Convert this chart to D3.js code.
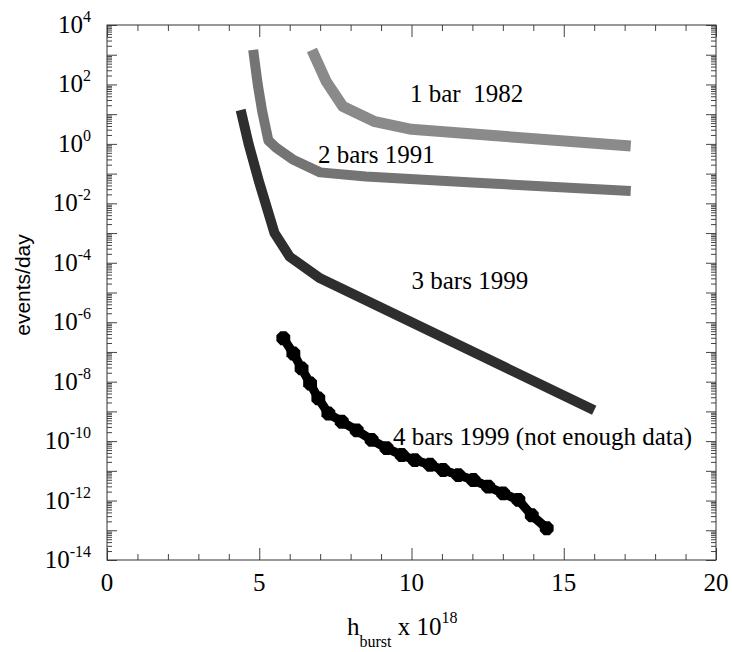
<!DOCTYPE html>
<html>
<head>
<meta charset="utf-8">
<script src="https://cdn.jsdelivr.net/npm/d3@7"></script>
<style>
  body { margin: 0; background: #fff; }
  svg { display: block; }
</style>
</head>
<body>
<svg id="chart" width="732" height="652"></svg>
<script>
const serif = '"Liberation Serif", "Times New Roman", serif'
const sans = '"Liberation Sans", Arial, sans-serif'

// h_burst (x 10^18) and events/day
const bar1X = [6.73, 7.2, 7.75, 8.8, 10, 13, 17.2]
const bar1Y = [1450, 125, 18, 5.6, 3.1, 1.8, 0.85]

const bar2X = [4.8, 4.95, 5.1, 5.3, 5.55, 6.1, 7.0, 8.5, 12, 17.2]
const bar2Y = [1450, 100, 12, 1.3, 0.75, 0.3, 0.11, 0.08, 0.05, 0.026]

const bar3X = [4.39, 4.65, 5.0, 5.5, 6.0, 7.0, 16.0]
const bar3Y = [13.8, 1, 0.05, 0.001, 1.6e-4, 3e-5, 1.1e-9]

const bar4X = [5.79, 6.12, 6.39, 6.67, 6.94, 7.27, 7.71, 8.2, 8.69, 9.18, 9.68,
  10.11, 10.61, 11.04, 11.54, 12.03, 12.52, 13.01, 13.51, 13.95, 14.44]
const bar4Y = [2.9e-7, 8.9e-8, 2.8e-8, 8.7e-9, 2.75e-9, 8.5e-10, 4.5e-10, 2.3e-10,
  1.1e-10, 5.8e-11, 3.4e-11, 2.3e-11, 1.6e-11, 1.07e-11, 7.2e-12, 4.9e-12,
  2.95e-12, 1.74e-12, 1.05e-12, 3.2e-13, 1.17e-13]

const xTicks = [0, 5, 10, 15, 20]
const yExponents = [-14, -12, -10, -8, -6, -4, -2, 0, 2, 4]

const labels = [
  { text: '1 bar\u00a0\u00a01982', x: 9.95, y: 26 },
  { text: '2 bars 1991', x: 6.93, y: 0.23 },
  { text: '3 bars 1999', x: 10.0, y: 1.3e-5 },
  { text: '4 bars 1999 (not enough data)', x: 9.39, y: 7.4e-11 }
]

const plotLeft = 107, plotRight = 716, plotTop = 25, plotBottom = 560

const svg = d3.select('#chart')

const xScale = d3.scaleLinear().domain([0, 20]).range([plotLeft, plotRight])
const yScale = d3.scaleLog().domain([1e-14, 1e4]).range([plotBottom, plotTop])

// tick positions
const xMinor = d3.range(0, 21).filter(d => d % 5 !== 0)
const yMajor = d3.range(-14, 5).map(e => Math.pow(10, e))
const yMinor = []
d3.range(-14, 4).forEach(e => {
  for (let k = 2; k <= 9; k++) yMinor.push(k * Math.pow(10, e))
})

function styleAxis(g) {
  g.selectAll('text').remove()
  g.select('.domain').remove()
  g.selectAll('line').attr('stroke', '#444').attr('stroke-width', 1)
}

svg.append('g').attr('transform', `translate(0,${plotBottom})`)
  .call(d3.axisBottom(xScale).tickValues(xTicks).tickSize(-12)).call(styleAxis)
svg.append('g').attr('transform', `translate(0,${plotBottom})`)
  .call(d3.axisBottom(xScale).tickValues(xMinor).tickSize(-6)).call(styleAxis)
svg.append('g').attr('transform', `translate(0,${plotTop})`)
  .call(d3.axisTop(xScale).tickValues(xTicks).tickSize(-12)).call(styleAxis)
svg.append('g').attr('transform', `translate(0,${plotTop})`)
  .call(d3.axisTop(xScale).tickValues(xMinor).tickSize(-6)).call(styleAxis)

svg.append('g').attr('transform', `translate(${plotLeft},0)`)
  .call(d3.axisLeft(yScale).tickValues(yMajor).tickSize(-10)).call(styleAxis)
svg.append('g').attr('transform', `translate(${plotLeft},0)`)
  .call(d3.axisLeft(yScale).tickValues(yMinor).tickSize(-5)).call(styleAxis)
svg.append('g').attr('transform', `translate(${plotRight},0)`)
  .call(d3.axisRight(yScale).tickValues(yMajor).tickSize(-10)).call(styleAxis)
svg.append('g').attr('transform', `translate(${plotRight},0)`)
  .call(d3.axisRight(yScale).tickValues(yMinor).tickSize(-5)).call(styleAxis)

svg.append('rect')
  .attr('x', plotLeft).attr('y', plotTop)
  .attr('width', plotRight - plotLeft).attr('height', plotBottom - plotTop)
  .attr('fill', 'none').attr('stroke', '#333').attr('stroke-width', 1)

// tick labels
svg.append('g').selectAll('text')
  .data(xTicks)
  .enter()
  .append('text')
  .attr('x', d => xScale(d))
  .attr('y', plotBottom + 31)
  .attr('text-anchor', 'middle')
  .attr('font-family', serif)
  .attr('font-size', 25)
  .text(d => d)

const yLab = svg.append('g').selectAll('text')
  .data(yExponents)
  .enter()
  .append('text')
  .attr('x', 91)
  .attr('y', d => yScale(Math.pow(10, d)) + 8)
  .attr('text-anchor', 'end')
  .attr('font-family', serif)
  .attr('font-size', 25)
yLab.append('tspan').text('10')
yLab.append('tspan').attr('dy', -11).attr('font-size', 16).text(d => d)

// axis titles
svg.append('text')
  .attr('transform', 'translate(30,285) rotate(-90)')
  .attr('text-anchor', 'middle')
  .attr('font-family', sans)
  .attr('font-size', 21)
  .text('events/day')

const xt = svg.append('text')
  .attr('x', 347).attr('y', 635)
  .attr('font-family', serif)
  .attr('font-size', 25)
xt.append('tspan').text('h')
xt.append('tspan').attr('dy', 12).attr('font-size', 16).text('burst')
xt.append('tspan').attr('dy', -12).text('\u00a0x 10')
xt.append('tspan').attr('dy', -12).attr('font-size', 16).text('18')

// curves
const line = d3.line()
  .x(d => xScale(d[0]))
  .y(d => yScale(d[1]))

const curves = [
  { x: bar1X, y: bar1Y, color: '#8a8a8a', width: 11 },
  { x: bar2X, y: bar2Y, color: '#747474', width: 10 },
  { x: bar3X, y: bar3Y, color: '#2e2e2e', width: 10 }
]

svg.append('g').selectAll('path')
  .data(curves)
  .enter()
  .append('path')
  .attr('d', c => line(d3.zip(c.x, c.y)))
  .attr('fill', 'none')
  .attr('stroke', c => c.color)
  .attr('stroke-width', c => c.width)
  .attr('stroke-linejoin', 'round')

const bar4 = d3.zip(bar4X, bar4Y)
svg.append('path')
  .attr('d', line(bar4))
  .attr('fill', 'none')
  .attr('stroke', '#000')
  .attr('stroke-width', 9)

const octagon = d3.range(8).map(i => {
  const a = Math.PI / 8 + i * Math.PI / 4
  return [7.5 * Math.cos(a), 7.5 * Math.sin(a)]
})
svg.append('g').selectAll('path')
  .data(bar4)
  .enter()
  .append('path')
  .attr('transform', d => `translate(${xScale(d[0])},${yScale(d[1])})`)
  .attr('d', d3.line()(octagon) + 'Z')
  .attr('fill', '#000')

// curve labels
svg.append('g').selectAll('text')
  .data(labels)
  .enter()
  .append('text')
  .attr('x', d => xScale(d.x))
  .attr('y', d => yScale(d.y))
  .attr('font-family', serif)
  .attr('font-size', 25)
  .attr('fill', '#000')
  .text(d => d.text)
</script>
</body>
</html>
